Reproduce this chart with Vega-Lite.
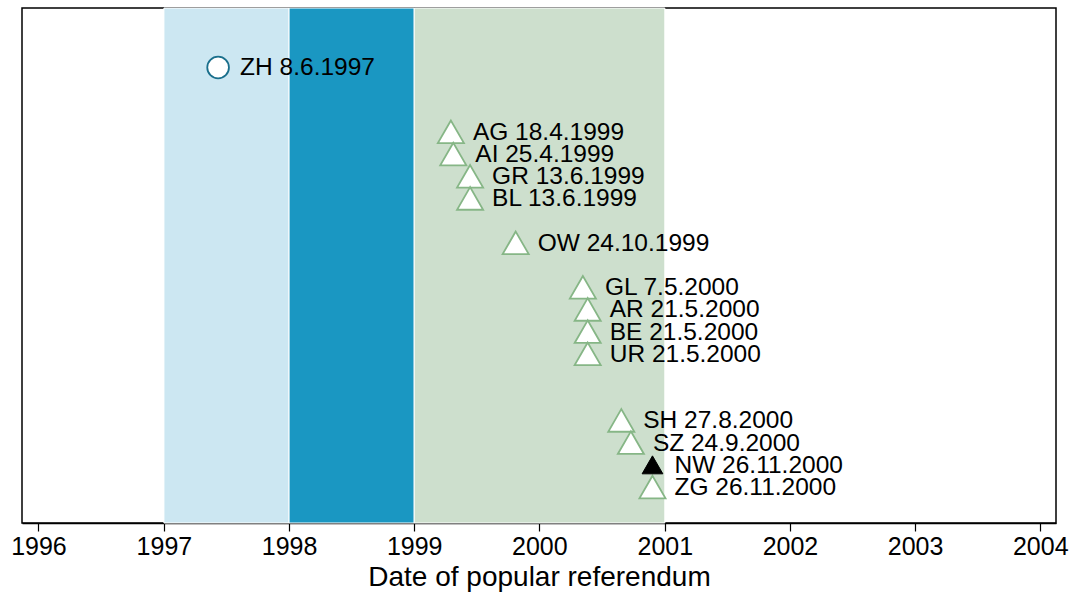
{
  "$schema": "https://vega.github.io/schema/vega-lite/v6.json",
  "width": 1034,
  "height": 515,
  "autosize": "none",
  "padding": {"left": 22, "top": 8, "right": 20, "bottom": 74},
  "background": "white",
  "config": {
    "view": {"stroke": "black", "strokeWidth": 1.5},
    "font": "Liberation Sans"
  },
  "datasets": {
    "periods": [
      {"start": "1997-01-01", "end": "1998-01-01", "phase": "A"},
      {"start": "1998-01-01", "end": "1999-01-01", "phase": "B"},
      {"start": "1999-01-01", "end": "2001-01-01", "phase": "C"}
    ],
    "votes": [
      {"canton": "ZH", "date": "1997-06-08", "label": "ZH 8.6.1997", "order": 1.1, "group": "early"},
      {"canton": "AG", "date": "1999-04-18", "label": "AG 18.4.1999", "order": 4, "group": "later"},
      {"canton": "AI", "date": "1999-04-25", "label": "AI 25.4.1999", "order": 5, "group": "later"},
      {"canton": "GR", "date": "1999-06-13", "label": "GR 13.6.1999", "order": 6, "group": "later"},
      {"canton": "BL", "date": "1999-06-13", "label": "BL 13.6.1999", "order": 7, "group": "later"},
      {"canton": "OW", "date": "1999-10-24", "label": "OW 24.10.1999", "order": 9, "group": "later"},
      {"canton": "GL", "date": "2000-05-07", "label": "GL 7.5.2000", "order": 11, "group": "later"},
      {"canton": "AR", "date": "2000-05-21", "label": "AR 21.5.2000", "order": 12, "group": "later"},
      {"canton": "BE", "date": "2000-05-21", "label": "BE 21.5.2000", "order": 13, "group": "later"},
      {"canton": "UR", "date": "2000-05-21", "label": "UR 21.5.2000", "order": 14, "group": "later"},
      {"canton": "SH", "date": "2000-08-27", "label": "SH 27.8.2000", "order": 17, "group": "later"},
      {"canton": "SZ", "date": "2000-09-24", "label": "SZ 24.9.2000", "order": 18, "group": "later"},
      {"canton": "NW", "date": "2000-11-26", "label": "NW 26.11.2000", "order": 19, "group": "other"},
      {"canton": "ZG", "date": "2000-11-26", "label": "ZG 26.11.2000", "order": 20, "group": "later"}
    ]
  },
  "layer": [
    {
      "data": {"name": "periods"},
      "mark": {"type": "rect", "stroke": "white", "strokeWidth": 1},
      "encoding": {
        "x": {
          "field": "start", "type": "temporal",
          "scale": {"type": "utc", "domain": ["1995-11-14", "2004-02-16"]},
          "axis": {
            "title": "Date of popular referendum",
            "format": "%Y",
            "values": ["1996-01-01", "1997-01-01", "1998-01-01", "1999-01-01", "2000-01-01", "2001-01-01", "2002-01-01", "2003-01-01", "2004-01-01"],
            "labelFontSize": 25,
            "labelColor": "black",
            "labelPadding": 3,
            "titleFontSize": 28,
            "titleFontWeight": "normal",
            "titleColor": "black",
            "titlePadding": 4,
            "tickColor": "black",
            "tickSize": 8,
            "tickWidth": 1.2,
            "domainColor": "black",
            "domainWidth": 1.5,
            "grid": false
          }
        },
        "x2": {"field": "end"},
        "color": {
          "field": "phase", "type": "nominal",
          "scale": {"domain": ["A", "B", "C"], "range": ["#cce7f2", "#1a97c2", "#cddfcd"]},
          "legend": null
        }
      }
    },
    {
      "data": {"name": "votes"},
      "transform": [{"filter": "datum.group === 'early'"}],
      "mark": {"type": "point", "shape": "circle", "filled": false, "fill": "white", "fillOpacity": 1, "stroke": "#1a6f8c", "strokeWidth": 1.8, "opacity": 1, "size": 470},
      "encoding": {
        "x": {"field": "date", "type": "temporal"},
        "y": {"field": "order", "type": "quantitative", "scale": {"domain": [-1.58, 21.62], "reverse": true, "nice": false, "zero": false}, "axis": null}
      }
    },
    {
      "data": {"name": "votes"},
      "transform": [{"filter": "datum.group === 'later'"}],
      "mark": {"type": "point", "shape": "triangle-up", "filled": false, "fill": "white", "fillOpacity": 1, "stroke": "#86b686", "strokeWidth": 1.8, "opacity": 1, "size": 680},
      "encoding": {
        "x": {"field": "date", "type": "temporal"},
        "y": {"field": "order", "type": "quantitative"}
      }
    },
    {
      "data": {"name": "votes"},
      "transform": [{"filter": "datum.group === 'other'"}],
      "mark": {"type": "point", "shape": "triangle-up", "filled": true, "fill": "black", "fillOpacity": 1, "stroke": "black", "strokeWidth": 1, "opacity": 1, "size": 430},
      "encoding": {
        "x": {"field": "date", "type": "temporal"},
        "y": {"field": "order", "type": "quantitative"}
      }
    },
    {
      "data": {"name": "votes"},
      "mark": {"type": "text", "align": "left", "baseline": "middle", "dx": 22, "dy": 1, "fontSize": 24.5, "color": "black"},
      "encoding": {
        "x": {"field": "date", "type": "temporal"},
        "y": {"field": "order", "type": "quantitative"},
        "text": {"field": "label", "type": "nominal"}
      }
    }
  ]
}
